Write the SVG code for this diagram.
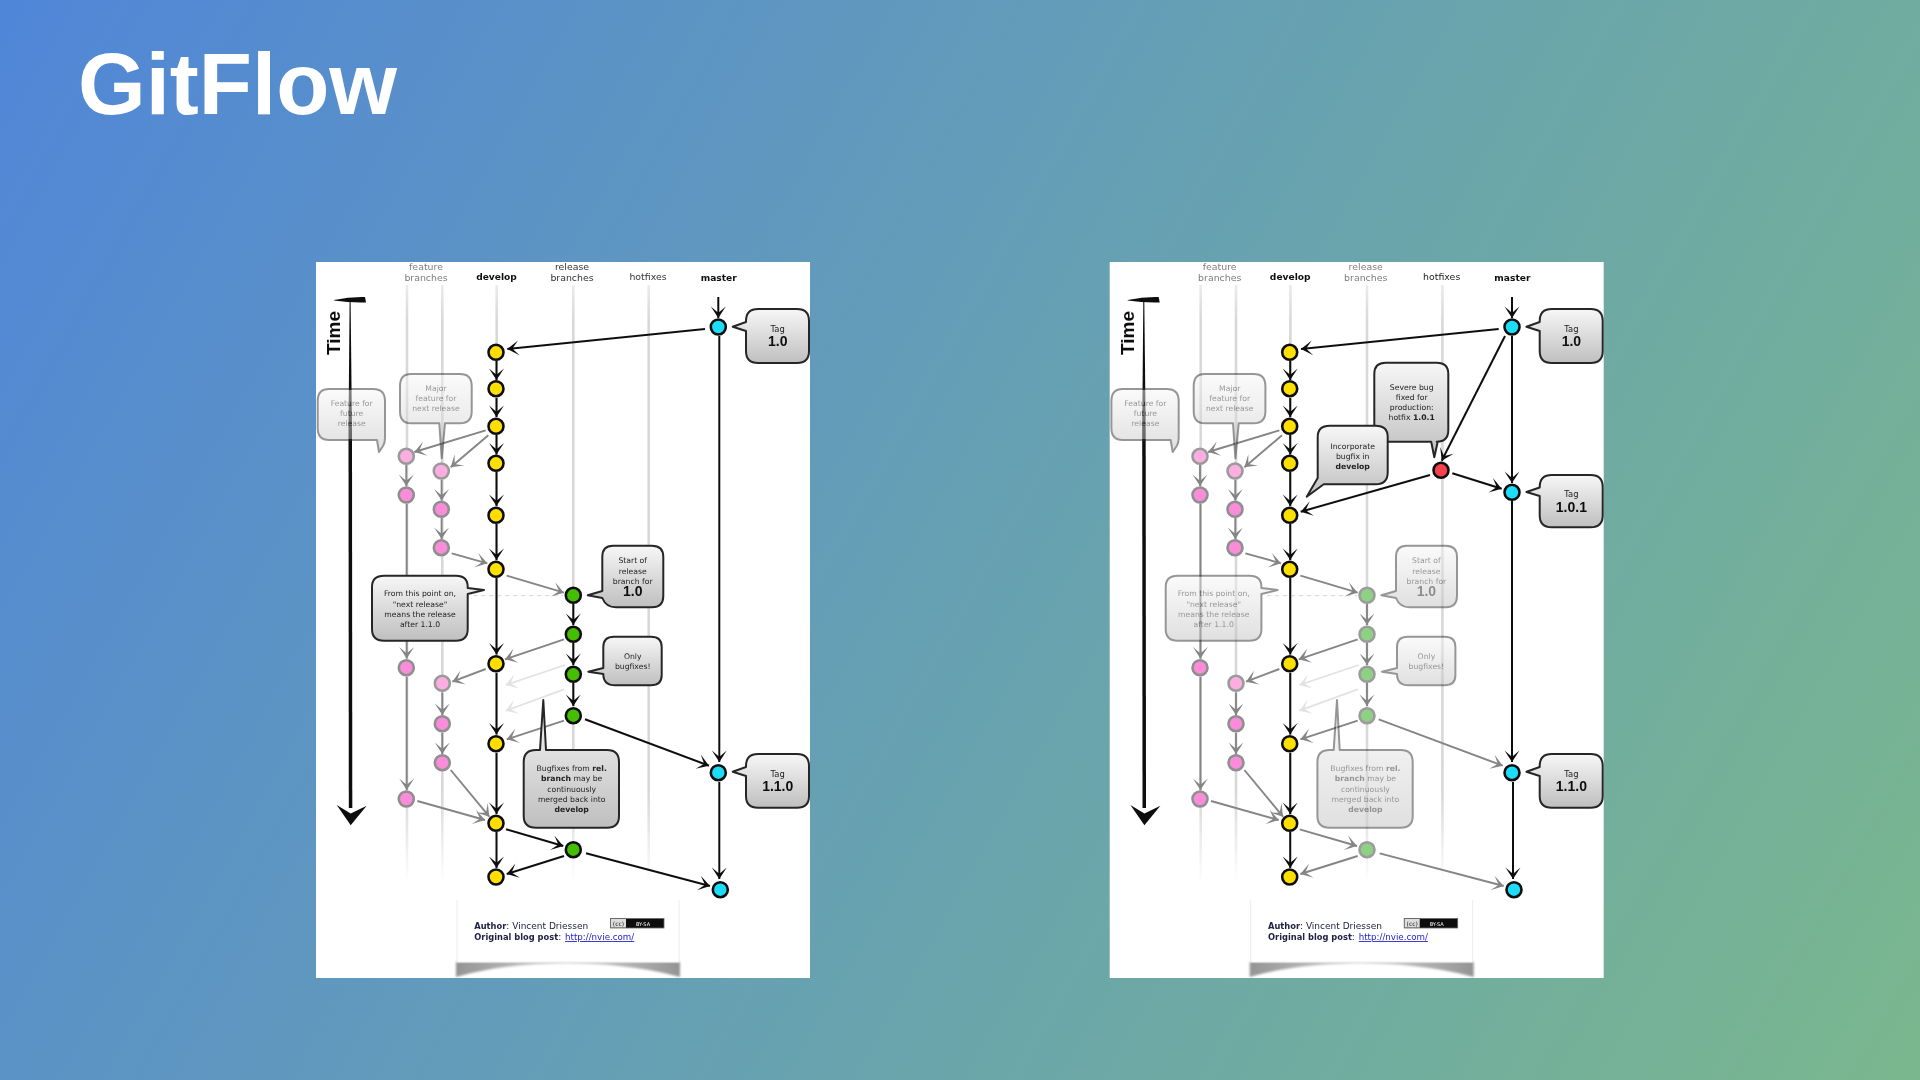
<svg xmlns="http://www.w3.org/2000/svg" width="1920" height="1080" viewBox="0 0 1920 1080">
<style>
text{font-family:"DejaVu Sans","Liberation Sans",sans-serif;text-anchor:middle;fill:#222}
.title{font-family:"Liberation Sans",Arial,sans-serif;font-weight:700;font-size:87px;fill:#fff;text-anchor:start}
.time{font-family:"Liberation Sans",Arial,sans-serif;font-weight:700;font-size:19px;fill:#111;text-anchor:start}
.lab{font-size:9.4px}
.bl{font-size:9.1px;font-weight:700;fill:#111}
.dim{fill:#7d7d7d}
.dk{fill:#333}
.ct{font-size:7.7px}
.tg{font-size:8.4px}
.big{font-family:"Liberation Sans",Arial,sans-serif;font-size:14px;font-weight:700;fill:#111}
.b{font-weight:700}
.ft{font-size:9px;text-anchor:start;fill:#224}
.fb{font-weight:700;font-size:8.3px}
.lnk{fill:#2222cc;text-decoration:underline;font-size:8.7px}
.lane{stroke:url(#lg);stroke-width:2.6;fill:none}
.k,.g,.l,.w{fill:none}
.k{stroke:#111;stroke-width:2;marker-end:url(#ak)}
.g{stroke:#858585;stroke-width:1.9;marker-end:url(#ag)}
.l{stroke:#e2e2e2;stroke-width:1.8;marker-end:url(#al)}
.w{stroke:#ddd;stroke-width:1.2;stroke-dasharray:4 4}
.n{stroke:#111;stroke-width:2.6}
.y{fill:#ffdf00}.c{fill:#1cdcf8}.v{fill:#45bd00}.r{fill:#f5434f}
.p{fill:#fa8cd9;stroke:#8f8f8f}.q{fill:#fbaedf;stroke:#9a9a9a}.h{fill:#8fd184;stroke:#9c9c9c}
.box{fill:url(#bg);stroke:#262626;stroke-width:2;stroke-linejoin:round}
.fade{opacity:.48}
</style>
<defs>
<linearGradient id="sky" gradientUnits="userSpaceOnUse" x1="0" y1="0" x2="1920" y2="1080"><stop offset="0" stop-color="#5086d8"/><stop offset=".5" stop-color="#66a0b3"/><stop offset="1" stop-color="#7ab78e"/></linearGradient>
<linearGradient id="lg" gradientUnits="userSpaceOnUse" x1="0" y1="285" x2="0" y2="883"><stop offset="0" stop-color="#d8d8d8" stop-opacity=".5"/><stop offset=".06" stop-color="#d8d8d8"/><stop offset=".85" stop-color="#d8d8d8"/><stop offset="1" stop-color="#d8d8d8" stop-opacity="0"/></linearGradient>
<linearGradient id="bg" x1="0" y1="0" x2="0" y2="1"><stop offset="0" stop-color="#f7f7f7"/><stop offset="1" stop-color="#bfbfbf"/></linearGradient>
<linearGradient id="sh" x1="0" y1="0" x2="1" y2="0"><stop offset="0" stop-color="#949494"/><stop offset=".5" stop-color="#d6d6d6"/><stop offset="1" stop-color="#949494"/></linearGradient>
<filter id="soft" x="-2%" y="-2%" width="104%" height="104%"><feGaussianBlur stdDeviation=".38"/></filter>
<filter id="soft2" x="-5%" y="-30%" width="110%" height="160%"><feGaussianBlur stdDeviation="1.1"/></filter>
<marker id="ak" markerUnits="userSpaceOnUse" markerWidth="18" markerHeight="18" viewBox="-13 -9 15 18" refX="0" refY="0" orient="auto"><path d="M0 0L-11.500-7.500L-6-1V1L-11.500 7.500Z" fill="#111"/></marker>
<marker id="ag" markerUnits="userSpaceOnUse" markerWidth="18" markerHeight="18" viewBox="-13 -9 15 18" refX="0" refY="0" orient="auto"><path d="M0 0L-11.500-7.500L-6-1V1L-11.500 7.500Z" fill="#858585"/></marker>
<marker id="al" markerUnits="userSpaceOnUse" markerWidth="18" markerHeight="18" viewBox="-13 -9 15 18" refX="0" refY="0" orient="auto"><path d="M0 0L-11.500-7.500L-6-1V1L-11.500 7.500Z" fill="#e2e2e2"/></marker>
</defs>
<rect width="1920" height="1080" fill="url(#sky)"/>
<text class="title" x="78" y="114">GitFlow</text>

<g id="panel-left" filter="url(#soft)">
<rect x="316" y="262" width="494" height="716" fill="#fff"/>
<g id="left-labels">
<text class="lab dim" x="426" y="270">feature</text><text class="lab dim" x="426" y="281">branches</text>
<text class="bl" x="496.5" y="280">develop</text>
<text class="lab dk" x="572" y="270">release</text><text class="lab dk" x="572" y="281">branches</text>
<text class="lab dk" x="648" y="280">hotfixes</text>
<text class="bl" x="718.7" y="281">master</text>
</g>
<g id="left-lanes"><line class="lane" x1="407" y1="285" x2="407" y2="883"/><line class="lane" x1="442.3" y1="285" x2="442.3" y2="883"/><line class="lane" x1="496.7" y1="285" x2="496.7" y2="883"/><line class="lane" x1="573.3" y1="285" x2="573.3" y2="883"/><line class="lane" x1="648.7" y1="285" x2="648.7" y2="883"/></g>
<g id="left-time">
<path d="M334 300Q350 296.500 365 297L366 302.500Q350 303 334 300.500Z" fill="#111"/>
<path d="M349.600 300H350.600L352 430L352.300 808H348.800L348.500 430Z" fill="#111"/>
<path d="M336.700 805L350.700 813.500L366.700 805.700L350.700 825.300Z" fill="#111"/>
<text class="time" transform="translate(340 355) rotate(-90)">Time</text>
</g>
<g id="left-connectors">
<path class="w" d="M473.300 595.700H563.300"/>
<path class="k" d="M718.300 297V318"/><path class="k" d="M705 329L507.300 349"/>
<path class="k" d="M496.500 361V380"/><path class="k" d="M496.500 398V417"/><path class="k" d="M496.500 435V454.500"/><path class="k" d="M496.500 472V506"/><path class="k" d="M496.500 524V560"/><path class="k" d="M496.500 578V654.500"/><path class="k" d="M496.500 673V734.500"/><path class="k" d="M496.500 753V814"/><path class="k" d="M496.500 832V868"/>
<path class="k" d="M719.300 336V762"/><path class="k" d="M719.300 782V879"/>
<path class="k" d="M573.300 604V625"/><path class="k" d="M573.300 643V665"/><path class="k" d="M573.300 683V706"/>
<path class="k" d="M585 719.300L709 765.700"/><path class="k" d="M506 829.300L563.300 846"/><path class="k" d="M564 856L506.700 874"/><path class="k" d="M586 853.300L710 886"/>
<path class="g" d="M485.700 430.300L414.300 452"/><path class="g" d="M488.300 435.300L450.700 467.300"/>
<path class="g" d="M406.300 465V486"/><path class="g" d="M441.600 480V500.500"/><path class="g" d="M441.600 518V539"/>
<path class="g" d="M451.700 553.300L487.300 563.300"/><path class="g" d="M506.700 575.700L564 592.700"/>
<path class="g" d="M406.700 504V658.500"/><path class="g" d="M406.700 677V790"/>
<path class="g" d="M564 639.300L505 659.300"/><path class="g" d="M485.700 669L452.300 681.700"/>
<path class="g" d="M442.300 692.500V715"/><path class="g" d="M442.300 733V754"/>
<path class="g" d="M450.700 770L489.300 816.700"/><path class="g" d="M417.300 801L485 820"/><path class="g" d="M564 720.700L506.700 739.300"/>
<path class="l" d="M565 665L505.700 685"/><path class="l" d="M564 689.300L505.700 710.700"/>
</g>
<g id="left-m1"><circle class="n c" cx="718.300" cy="327" r="7.500"/></g>
<g id="left-m2"><circle class="n c" cx="718.300" cy="772.700" r="7.500"/></g>
<g id="left-m3"><circle class="n c" cx="720.300" cy="889.700" r="7.500"/></g>
<g id="left-d1"><circle class="n y" cx="496" cy="352.300" r="7.500"/></g>
<g id="left-d2"><circle class="n y" cx="496" cy="388.700" r="7.500"/></g>
<g id="left-d3"><circle class="n y" cx="496" cy="426.300" r="7.500"/></g>
<g id="left-d4"><circle class="n y" cx="496" cy="463.300" r="7.500"/></g>
<g id="left-d5"><circle class="n y" cx="496" cy="515.300" r="7.500"/></g>
<g id="left-d6"><circle class="n y" cx="496" cy="569.300" r="7.500"/></g>
<g id="left-d7"><circle class="n y" cx="496" cy="663.700" r="7.500"/></g>
<g id="left-d8"><circle class="n y" cx="496" cy="743.700" r="7.500"/></g>
<g id="left-d9"><circle class="n y" cx="496" cy="823.300" r="7.500"/></g>
<g id="left-d10"><circle class="n y" cx="496" cy="877" r="7.500"/></g>
<g id="left-r1"><circle class="n v" cx="573.300" cy="595.300" r="7.500"/></g>
<g id="left-r2"><circle class="n v" cx="573.300" cy="634.300" r="7.500"/></g>
<g id="left-r3"><circle class="n v" cx="573.300" cy="674.300" r="7.500"/></g>
<g id="left-r4"><circle class="n v" cx="573.300" cy="715.700" r="7.500"/></g>
<g id="left-r5"><circle class="n v" cx="573.300" cy="849.700" r="7.500"/></g>
<g id="left-f1"><circle class="n q" cx="406.300" cy="456.300" r="7.500"/></g>
<g id="left-f2"><circle class="n p" cx="406.300" cy="495" r="7.500"/></g>
<g id="left-f3"><circle class="n p" cx="406.300" cy="667.700" r="7.500"/></g>
<g id="left-f4"><circle class="n p" cx="406.300" cy="799" r="7.500"/></g>
<g id="left-g1"><circle class="n q" cx="441.300" cy="471" r="7.500"/></g>
<g id="left-g2"><circle class="n p" cx="441.300" cy="509.300" r="7.500"/></g>
<g id="left-g3"><circle class="n p" cx="441.300" cy="547.700" r="7.500"/></g>
<g id="left-g4"><circle class="n q" cx="442.300" cy="683.300" r="7.500"/></g>
<g id="left-g5"><circle class="n p" cx="442.300" cy="723.700" r="7.500"/></g>
<g id="left-g6"><circle class="n p" cx="442.300" cy="762.700" r="7.500"/></g>
<g id="left-c-feature" class="fade"><path class="box" d="M329 389H373Q385 389 385 401V438Q385 443 383 446L379 452L377 440H329Q317.700 440 317.700 428V401Q317.700 389 329 389Z"/><text class="ct" x="351.700" y="406.300">Feature for</text><text class="ct" x="351.700" y="416.300">future</text><text class="ct" x="351.700" y="426.300">release</text></g>
<g id="left-c-major" class="fade"><path class="box" d="M411 374H460Q471.700 374 471.700 386V411.500Q471.700 423.300 460 423.300H445L441.700 458.300L439.300 423.300H411Q400 423.300 400 411.500V386Q400 374 411 374Z"/><text class="ct" x="436" y="391.300">Major</text><text class="ct" x="436" y="401.300">feature for</text><text class="ct" x="436" y="411.300">next release</text></g>
<g id="left-c-tag10"><path class="box" d="M758 309H797Q809 309 809 321V351Q809 363 797 363H758Q746 363 746 351V331L732.700 326.700L746 322V321Q746 309 758 309Z"/><text class="tg" x="777.700" y="331.700">Tag</text><text class="big" x="777.700" y="345.700">1.0</text></g>
<g id="left-c-tag110"><path class="box" d="M758 754H797Q809 754 809 766V796Q809 807.700 797 807.700H758Q746 807.700 746 796V776L732.700 771.700L746 767V766Q746 754 758 754Z"/><text class="tg" x="777.700" y="776.700">Tag</text><text class="big" x="777.700" y="790.700">1.1.0</text></g>
<g id="left-c-start"><path class="box" d="M613 545.700H652Q663.300 545.700 663.300 557V596Q663.300 607.300 652 607.300H616Q606 607.300 602.300 598L587.700 595.300L602.300 591V557Q602.300 545.700 613 545.700Z"/><text class="ct" x="632.700" y="563.300">Start of</text><text class="ct" x="632.700" y="573.700">release</text><text class="ct" x="632.700" y="583.700">branch for</text><text class="big" x="632.700" y="596">1.0</text></g>
<g id="left-c-only"><path class="box" d="M614 636.700H651Q661.700 636.700 661.700 647V675Q661.700 685.300 651 685.300H615Q603.300 685.300 603.300 674L588.300 671.700L603.300 668V647Q603.300 636.700 614 636.700Z"/><text class="ct" x="632.700" y="659.300">Only</text><text class="ct" x="632.700" y="669.300">bugfixes!</text></g>
<g id="left-c-from"><path class="box" d="M384 575.700H456Q467.700 575.700 467.700 587V588L484 590L467.700 594V629Q467.700 640.700 456 640.700H384Q372 640.700 372 629V587Q372 575.700 384 575.700Z"/><text class="ct" x="420" y="596.300">From this point on,</text><text class="ct" x="420" y="606.700">"next release"</text><text class="ct" x="420" y="616.700">means the release</text><text class="ct" x="420" y="626.700">after 1.1.0</text></g>
<g id="left-c-bugfixes"><path class="box" d="M536 750H540L543.300 700L546 750H607Q619 750 619 762V816Q619 827.700 607 827.700H536Q523.700 827.700 523.700 816V762Q523.700 750 536 750Z"/><text class="ct" x="571.700" y="771.300">Bugfixes from <tspan class="b">rel.</tspan></text><text class="ct" x="571.700" y="781.300"><tspan class="b">branch</tspan> may be</text><text class="ct" x="571.700" y="791.700">continuously</text><text class="ct" x="571.700" y="801.700">merged back into</text><text class="ct b" x="571.700" y="811.700">develop</text></g>
<g id="left-footer">
<path filter="url(#soft2)" d="M456 962H680V977C640 966 600 963.500 568 963.500C530 963.500 495 966 456 977Z" fill="url(#sh)"/>
<path d="M457 900V962H679V900" fill="#fff" stroke="#ececec"/>
<text class="ft" x="474.300" y="929.300"><tspan class="fb">Author</tspan>: Vincent Driessen</text>
<text class="ft" x="474.300" y="940"><tspan class="fb">Original blog post</tspan>: <tspan class="lnk" x="565">http://nvie.com/</tspan></text>
<rect x="610.500" y="918.500" width="53.500" height="9.500" fill="#111" stroke="#666" stroke-width=".8"/><rect x="611" y="919" width="15" height="8.500" fill="#ddd"/>
<text x="618.500" y="925.500" font-size="6" style="fill:#222">(cc)</text><text x="643" y="925.500" font-size="5" style="fill:#fff">BY-SA</text>
</g>
</g>

<g id="panel-right" filter="url(#soft)" transform="translate(793.700 0)">
<rect x="316" y="262" width="494" height="716" fill="#fff"/>
<g id="right-labels">
<text class="lab dim" x="426" y="270">feature</text><text class="lab dim" x="426" y="281">branches</text>
<text class="bl" x="496.5" y="280">develop</text>
<text class="lab dim" x="572" y="270">release</text><text class="lab dim" x="572" y="281">branches</text>
<text class="lab" x="648" y="280" style="fill:#222">hotfixes</text>
<text class="bl" x="718.7" y="281">master</text>
</g>
<g id="right-lanes"><line class="lane" x1="407" y1="285" x2="407" y2="883"/><line class="lane" x1="442.3" y1="285" x2="442.3" y2="883"/><line class="lane" x1="496.7" y1="285" x2="496.7" y2="883"/><line class="lane" x1="573.3" y1="285" x2="573.3" y2="883"/><line class="lane" x1="648.7" y1="285" x2="648.7" y2="883"/></g>
<g id="right-time">
<path d="M334 300Q350 296.500 365 297L366 302.500Q350 303 334 300.500Z" fill="#111"/>
<path d="M349.600 300H350.600L352 430L352.300 808H348.800L348.500 430Z" fill="#111"/>
<path d="M336.700 805L350.700 813.500L366.700 805.700L350.700 825.300Z" fill="#111"/>
<text class="time" transform="translate(340 355) rotate(-90)">Time</text>
</g>
<g id="right-connectors">
<path class="w" d="M473.300 595.700H563.300"/>
<path class="k" d="M718.300 297V318"/><path class="k" d="M705 329L507.300 349"/>
<path class="k" d="M496.500 361V380"/><path class="k" d="M496.500 398V417"/><path class="k" d="M496.500 435V454.500"/><path class="k" d="M496.500 472V506"/><path class="k" d="M496.500 524V560"/><path class="k" d="M496.500 578V654.500"/><path class="k" d="M496.500 673V734.500"/><path class="k" d="M496.500 753V814"/><path class="k" d="M496.500 832V868"/>
<path class="k" d="M718.300 336V483"/><path class="k" d="M718.300 501V762"/><path class="k" d="M719.300 782V879"/>
<path class="k" d="M711.300 336L648 460.700"/><path class="k" d="M658.600 473.300L708 488.700"/><path class="k" d="M636.300 475L507 511.700"/>
<path class="g" d="M573.300 604V625"/><path class="g" d="M573.300 643V665"/><path class="g" d="M573.300 683V706"/>
<path class="g" d="M585 719.300L709 765.700"/><path class="g" d="M506 829.300L563.300 846"/><path class="g" d="M564 856L506.700 874"/><path class="g" d="M586 853.300L710 886"/>
<path class="g" d="M485.700 430.300L414.300 452"/><path class="g" d="M488.300 435.300L450.700 467.300"/>
<path class="g" d="M406.300 465V486"/><path class="g" d="M441.600 480V500.500"/><path class="g" d="M441.600 518V539"/>
<path class="g" d="M451.700 553.300L487.300 563.300"/><path class="g" d="M506.700 575.700L564 592.700"/>
<path class="g" d="M406.700 504V658.500"/><path class="g" d="M406.700 677V790"/>
<path class="g" d="M564 639.300L505 659.300"/><path class="g" d="M485.700 669L452.300 681.700"/>
<path class="g" d="M442.300 692.500V715"/><path class="g" d="M442.300 733V754"/>
<path class="g" d="M450.700 770L489.300 816.700"/><path class="g" d="M417.300 801L485 820"/><path class="g" d="M564 720.700L506.700 739.300"/>
<path class="l" d="M565 665L505.700 685"/><path class="l" d="M564 689.300L505.700 710.700"/>
</g>
<g id="right-m1"><circle class="n c" cx="718.300" cy="327" r="7.500"/></g>
<g id="right-m101"><circle class="n c" cx="718.300" cy="492.300" r="7.500"/></g>
<g id="right-m2"><circle class="n c" cx="718.300" cy="772.700" r="7.500"/></g>
<g id="right-m3"><circle class="n c" cx="720.300" cy="889.700" r="7.500"/></g>
<g id="right-h1"><circle class="n r" cx="647.300" cy="470.300" r="7.500"/></g>
<g id="right-d1"><circle class="n y" cx="496" cy="352.300" r="7.500"/></g>
<g id="right-d2"><circle class="n y" cx="496" cy="388.700" r="7.500"/></g>
<g id="right-d3"><circle class="n y" cx="496" cy="426.300" r="7.500"/></g>
<g id="right-d4"><circle class="n y" cx="496" cy="463.300" r="7.500"/></g>
<g id="right-d5"><circle class="n y" cx="496" cy="515.300" r="7.500"/></g>
<g id="right-d6"><circle class="n y" cx="496" cy="569.300" r="7.500"/></g>
<g id="right-d7"><circle class="n y" cx="496" cy="663.700" r="7.500"/></g>
<g id="right-d8"><circle class="n y" cx="496" cy="743.700" r="7.500"/></g>
<g id="right-d9"><circle class="n y" cx="496" cy="823.300" r="7.500"/></g>
<g id="right-d10"><circle class="n y" cx="496" cy="877" r="7.500"/></g>
<g id="right-r1"><circle class="n h" cx="573.300" cy="595.300" r="7.500"/></g>
<g id="right-r2"><circle class="n h" cx="573.300" cy="634.300" r="7.500"/></g>
<g id="right-r3"><circle class="n h" cx="573.300" cy="674.300" r="7.500"/></g>
<g id="right-r4"><circle class="n h" cx="573.300" cy="715.700" r="7.500"/></g>
<g id="right-r5"><circle class="n h" cx="573.300" cy="849.700" r="7.500"/></g>
<g id="right-f1"><circle class="n q" cx="406.300" cy="456.300" r="7.500"/></g>
<g id="right-f2"><circle class="n p" cx="406.300" cy="495" r="7.500"/></g>
<g id="right-f3"><circle class="n p" cx="406.300" cy="667.700" r="7.500"/></g>
<g id="right-f4"><circle class="n p" cx="406.300" cy="799" r="7.500"/></g>
<g id="right-g1"><circle class="n q" cx="441.300" cy="471" r="7.500"/></g>
<g id="right-g2"><circle class="n p" cx="441.300" cy="509.300" r="7.500"/></g>
<g id="right-g3"><circle class="n p" cx="441.300" cy="547.700" r="7.500"/></g>
<g id="right-g4"><circle class="n q" cx="442.300" cy="683.300" r="7.500"/></g>
<g id="right-g5"><circle class="n p" cx="442.300" cy="723.700" r="7.500"/></g>
<g id="right-g6"><circle class="n p" cx="442.300" cy="762.700" r="7.500"/></g>
<g id="right-c-feature" class="fade"><path class="box" d="M329 389H373Q385 389 385 401V438Q385 443 383 446L379 452L377 440H329Q317.700 440 317.700 428V401Q317.700 389 329 389Z"/><text class="ct" x="351.700" y="406.300">Feature for</text><text class="ct" x="351.700" y="416.300">future</text><text class="ct" x="351.700" y="426.300">release</text></g>
<g id="right-c-major" class="fade"><path class="box" d="M411 374H460Q471.700 374 471.700 386V411.500Q471.700 423.300 460 423.300H445L441.700 458.300L439.300 423.300H411Q400 423.300 400 411.500V386Q400 374 411 374Z"/><text class="ct" x="436" y="391.300">Major</text><text class="ct" x="436" y="401.300">feature for</text><text class="ct" x="436" y="411.300">next release</text></g>
<g id="right-c-tag10"><path class="box" d="M758 309H797Q809 309 809 321V351Q809 363 797 363H758Q746 363 746 351V331L732.700 326.700L746 322V321Q746 309 758 309Z"/><text class="tg" x="777.700" y="331.700">Tag</text><text class="big" x="777.700" y="345.700">1.0</text></g>
<g id="right-c-tag101"><path class="box" d="M758 475H797Q809 475 809 487V515.500Q809 527.300 797 527.300H758Q746 527.300 746 515.500V496L732.700 492L746 487.500V487Q746 475 758 475Z"/><text class="tg" x="777.700" y="497.300">Tag</text><text class="big" x="777.700" y="511.700">1.0.1</text></g>
<g id="right-c-tag110"><path class="box" d="M758 754H797Q809 754 809 766V796Q809 807.700 797 807.700H758Q746 807.700 746 796V776L732.700 771.700L746 767V766Q746 754 758 754Z"/><text class="tg" x="777.700" y="776.700">Tag</text><text class="big" x="777.700" y="790.700">1.1.0</text></g>
<g id="right-c-severe"><path class="box" d="M592 362.700H643Q654.600 362.700 654.600 374V430Q654.600 441.700 643 441.700H644L640.600 457.300L637.500 441.700H592Q580.600 441.700 580.600 430V374Q580.600 362.700 592 362.700Z"/><text class="ct" x="618" y="390.300">Severe bug</text><text class="ct" x="618" y="400.300">fixed for</text><text class="ct" x="618" y="410.300">production:</text><text class="ct" x="618" y="420.300">hotfix <tspan class="b">1.0.1</tspan></text></g>
<g id="right-c-incorporate"><path class="box" d="M536 425.700H582Q594 425.700 594 437V472.500Q594 484.300 582 484.300H530L513 496.700L524 478V437Q524 425.700 536 425.700Z"/><text class="ct" x="559" y="449">Incorporate</text><text class="ct" x="559" y="459">bugfix in</text><text class="ct b" x="559" y="469">develop</text></g>
<g id="right-c-start" class="fade"><path class="box" d="M613 545.700H652Q663.300 545.700 663.300 557V596Q663.300 607.300 652 607.300H616Q606 607.300 602.300 598L587.700 595.300L602.300 591V557Q602.300 545.700 613 545.700Z"/><text class="ct" x="632.700" y="563.300">Start of</text><text class="ct" x="632.700" y="573.700">release</text><text class="ct" x="632.700" y="583.700">branch for</text><text class="big" x="632.700" y="596">1.0</text></g>
<g id="right-c-only" class="fade"><path class="box" d="M614 636.700H651Q661.700 636.700 661.700 647V675Q661.700 685.300 651 685.300H615Q603.300 685.300 603.300 674L588.300 671.700L603.300 668V647Q603.300 636.700 614 636.700Z"/><text class="ct" x="632.700" y="659.300">Only</text><text class="ct" x="632.700" y="669.300">bugfixes!</text></g>
<g id="right-c-from" class="fade"><path class="box" d="M384 575.700H456Q467.700 575.700 467.700 587V588L484 590L467.700 594V629Q467.700 640.700 456 640.700H384Q372 640.700 372 629V587Q372 575.700 384 575.700Z"/><text class="ct" x="420" y="596.300">From this point on,</text><text class="ct" x="420" y="606.700">"next release"</text><text class="ct" x="420" y="616.700">means the release</text><text class="ct" x="420" y="626.700">after 1.1.0</text></g>
<g id="right-c-bugfixes" class="fade"><path class="box" d="M536 750H540L543.300 700L546 750H607Q619 750 619 762V816Q619 827.700 607 827.700H536Q523.700 827.700 523.700 816V762Q523.700 750 536 750Z"/><text class="ct" x="571.700" y="771.300">Bugfixes from <tspan class="b">rel.</tspan></text><text class="ct" x="571.700" y="781.300"><tspan class="b">branch</tspan> may be</text><text class="ct" x="571.700" y="791.700">continuously</text><text class="ct" x="571.700" y="801.700">merged back into</text><text class="ct b" x="571.700" y="811.700">develop</text></g>
<g id="right-footer">
<path filter="url(#soft2)" d="M456 962H680V977C640 966 600 963.500 568 963.500C530 963.500 495 966 456 977Z" fill="url(#sh)"/>
<path d="M457 900V962H679V900" fill="#fff" stroke="#ececec"/>
<text class="ft" x="474.300" y="929.300"><tspan class="fb">Author</tspan>: Vincent Driessen</text>
<text class="ft" x="474.300" y="940"><tspan class="fb">Original blog post</tspan>: <tspan class="lnk" x="565">http://nvie.com/</tspan></text>
<rect x="610.500" y="918.500" width="53.500" height="9.500" fill="#111" stroke="#666" stroke-width=".8"/><rect x="611" y="919" width="15" height="8.500" fill="#ddd"/>
<text x="618.500" y="925.500" font-size="6" style="fill:#222">(cc)</text><text x="643" y="925.500" font-size="5" style="fill:#fff">BY-SA</text>
</g>
</g>
</svg>
